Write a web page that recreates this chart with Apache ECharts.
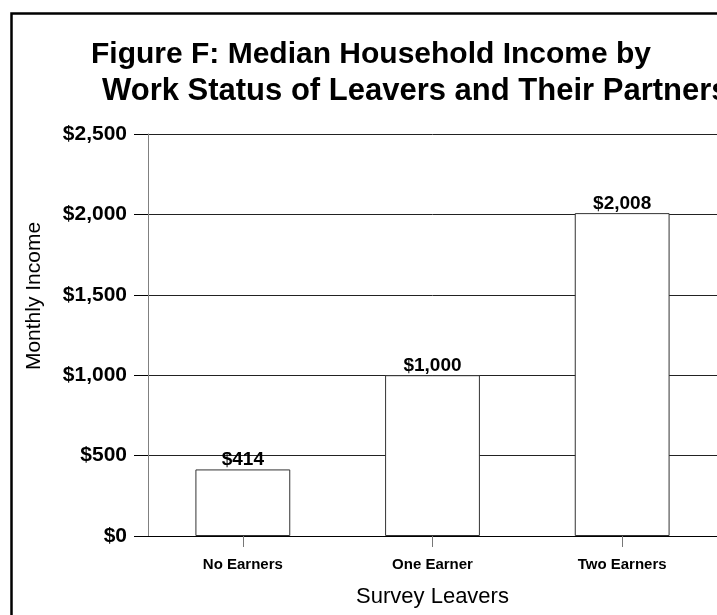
<!DOCTYPE html>
<html>
<head>
<meta charset="utf-8">
<script src="https://cdn.jsdelivr.net/npm/echarts@6/dist/echarts.min.js"></script>
<style>
  html, body { margin: 0; padding: 0; background: #fff; }
  #chart { width: 717px; height: 615px; }
</style>
</head>
<body>
<div id="chart"></div>
<script>
// Median household income by work status of leavers and their partners
const categories = ['No Earners', 'One Earner', 'Two Earners'];
const incomeValues = [414, 1000, 2008];
const titleLines = ['Figure F: Median Household Income by', 'Work Status of Leavers and Their Partners'];
const xAxisTitle = 'Survey Leavers';
const yAxisTitle = 'Monthly Income';

const FONT = '"Liberation Sans", Arial, Helvetica, sans-serif';

const fmtDollar = v => '$' + Number(v).toLocaleString('en-US');

const chart = echarts.init(document.getElementById('chart'), null, { renderer: 'canvas' });

chart.setOption({
  backgroundColor: '#ffffff',
  animation: false,
  title: [
    {
      text: titleLines[0], left: 86, top: 35,
      textStyle: { fontFamily: FONT, fontSize: 30, fontWeight: 'bold', color: '#000' }
    },
    {
      text: titleLines[1], left: 97, top: 71,
      textStyle: { fontFamily: FONT, fontSize: 31, fontWeight: 'bold', color: '#000' }
    }
  ],
  graphic: [
    {
      // outer frame of the chart area
      type: 'rect', left: 9, top: 11, silent: true,
      shape: { width: 900, height: 800 },
      style: { fill: 'none', stroke: '#000', lineWidth: 2.5 }
    },
    {
      // vertical value-axis title
      type: 'text', silent: true,
      x: 34, y: 296, rotation: Math.PI / 2,
      style: {
        text: yAxisTitle, fontFamily: FONT, fontSize: 21, fill: '#000',
        align: 'center', verticalAlign: 'middle'
      }
    }
  ],
  grid: { left: 148, right: -6, top: 134, bottom: 79, containLabel: false },
  xAxis: {
    type: 'category',
    data: categories,
    name: xAxisTitle,
    nameLocation: 'middle',
    nameGap: 50,
    nameTextStyle: { fontFamily: FONT, fontSize: 22, color: '#000' },
    axisLine: { lineStyle: { color: '#000', width: 1 } },
    axisTick: { show: true, alignWithLabel: true, length: 11, lineStyle: { color: '#777' } },
    axisLabel: { fontFamily: FONT, fontSize: 15, fontWeight: 'bold', color: '#000', margin: 21 },
    splitLine: { show: false }
  },
  yAxis: {
    type: 'value',
    min: 0, max: 2500, interval: 500,
    axisLine: { show: true, lineStyle: { color: '#808080', width: 1 } },
    axisTick: { show: true, inside: false, length: 14, lineStyle: { color: '#000' } },
    axisLabel: { fontFamily: FONT, fontSize: 21, fontWeight: 'bold', color: '#000', margin: 21, formatter: fmtDollar },
    splitLine: { show: true, lineStyle: { color: '#222', width: 1 } }
  },
  series: [{
    type: 'bar',
    data: incomeValues,
    barWidth: '50%',
    itemStyle: { color: '#ffffff', borderColor: '#333', borderWidth: 1 },
    label: {
      show: true, position: 'top', distance: 0,
      fontFamily: FONT, fontSize: 19, fontWeight: 'bold', color: '#000',
      formatter: p => fmtDollar(p.value)
    }
  }]
});
</script>
</body>
</html>
